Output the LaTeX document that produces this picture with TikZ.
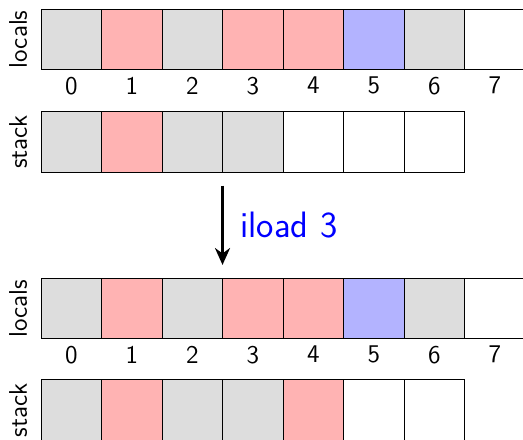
\documentclass[tikz,border=0pt]{standalone}
\usepackage{tikz}
\usetikzlibrary{arrows.meta,positioning}
\renewcommand{\familydefault}{\sfdefault}
\definecolor{jvmPrim}{HTML}{DDDDDD}
\definecolor{jvmInt}{HTML}{FFB3B3}
\definecolor{jvmRef}{HTML}{B3B3FF}
\definecolor{jvmOp}{HTML}{0000FF}
\tikzset{
  cell/.style={
    draw, minimum width=1cm, minimum height=1cm, inner sep=0pt,
    outer sep=0pt, font=\large
  },
  rowname/.style={rotate=90, font=\large},
  idx/.style={label distance=0pt, font=\large},
  opstep/.style={-{Stealth[length=2.8mm, width=2.5mm]}, line width=1.2pt},
  opname/.style={font=\LARGE, text=jvmOp, right, xshift=1.6mm}
}

\begin{document}
\begin{tikzpicture}
  \useasboundingbox (-0.678,0.149) rectangle (7.967,-7.124);

  % before
  \foreach \c [count=\i from 0] in {jvmPrim,jvmInt,jvmPrim,jvmInt,jvmInt,jvmRef,jvmPrim,white}
    \node[cell, fill=\c, label={[idx]below:\i}] (la\i) at (\i+0.5,-0.5) {};
  \foreach \c [count=\i from 0] in {jvmPrim,jvmInt,jvmPrim,jvmPrim,white,white,white}
    \node[cell, fill=\c] (sa\i) at (\i+0.5,-2.2) {};
  \node[rowname] (lna) at (-0.38,-0.5) {locals};
  \node[rowname] (sna) at (-0.38,-2.2) {stack};

  % after
  \foreach \c [count=\i from 0] in {jvmPrim,jvmInt,jvmPrim,jvmInt,jvmInt,jvmRef,jvmPrim,white}
    \node[cell, fill=\c, label={[idx]below:\i}] (lb\i) at (\i+0.5,-4.95) {};
  \foreach \c [count=\i from 0] in {jvmPrim,jvmInt,jvmPrim,jvmPrim,jvmInt,white,white}
    \node[cell, fill=\c] (sb\i) at (\i+0.5,-6.63) {};
  \node[rowname] (lnb) at (-0.38,-4.95) {locals};
  \node[rowname] (snb) at (-0.38,-6.63) {stack};

  \draw[opstep, shorten <=0.22cm, shorten >=0.22cm] (sa2.south east) -- (lb2.north east)
    node[opname, midway] {iload 3};
\end{tikzpicture}
\end{document}
